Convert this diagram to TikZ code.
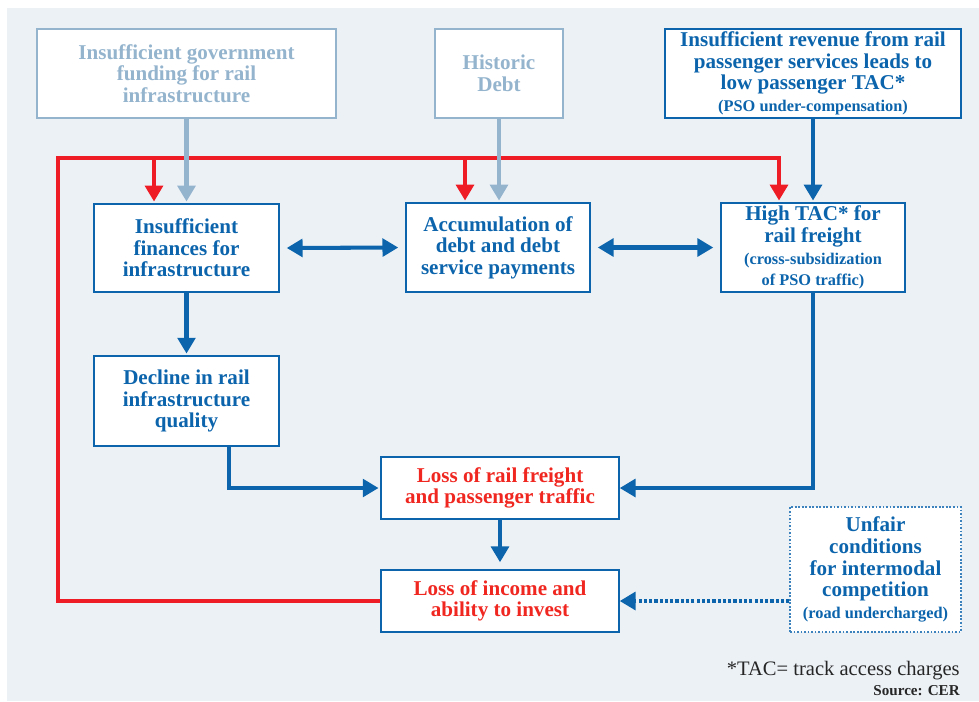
\documentclass[tikz,border=0pt]{standalone}
\usepackage{fontspec}
\setmainfont{Liberation Serif}
\usetikzlibrary{positioning, arrows.meta}

\definecolor{cerblue}{HTML}{0B64AC}
\definecolor{cerred}{HTML}{EE1D25}
\definecolor{cergrey}{HTML}{94B4CE}
\definecolor{cerback}{HTML}{ECF1F6}

\newcommand{\aside}[1]{{\fontsize{9.3}{11.4}\selectfont #1}}

\tikzset{
  box/.style={draw=cerblue, line width=0.8pt, fill=white, text=cerblue,
    font=\bfseries\fontsize{12}{12.3}\selectfont, align=center, inner sep=1pt},
  pale/.style={box, draw=cergrey, text=cergrey},
  hot/.style={box, text=cerred!90!orange},
  tip/.style={-{Triangle[width=10pt,length=9pt]}},
  link/.style={draw=cerblue, line width=2.3pt, tip, shorten >=1pt},
  both/.style={link, {Triangle[width=10pt,length=9pt]}-{Triangle[width=10pt,length=9pt]}, shorten >=4pt, shorten <=4pt},
  back/.style={link, draw=cerred},
  feed/.style={link, draw=cergrey},
  weak/.style={link, dash pattern=on 1.8pt off 1.2pt, shorten >=0pt}
}

\begin{document}
\begin{tikzpicture}[x=0.02cm, y=-0.02cm]
  \useasboundingbox (0,0) rectangle (979,701);
  \fill[cerback] (7,8) rectangle (979,701);

  % causes
  \node[pale, minimum width=5.98cm, minimum height=1.78cm] (gov) at (186.5,73.5)
    {Insufficient government\\funding for rail\\infrastructure};
  \node[pale, minimum width=2.56cm, minimum height=1.78cm] (hist) at (499,73.5)
    {Historic\\Debt};
  \node[box, minimum width=5.92cm, minimum height=1.78cm] (rev) at (813,73.5)
    {Insufficient revenue from rail\\passenger services leads to\\low passenger TAC*\\\aside{(PSO under-compensation)}};

  % middle row
  \node[box, minimum width=3.7cm, minimum height=1.76cm] (fin) at (186.5,248)
    {Insufficient\\finances for\\infrastructure};
  \node[box, minimum width=3.68cm, minimum height=1.78cm] (acc) at (498,247.5)
    {Accumulation of\\debt and debt\\service payments};
  \node[box, minimum width=3.68cm, minimum height=1.78cm] (tac) at (813,247.5)
    {High TAC* for\\rail freight\\\aside{(cross-subsidization}\\\aside{of PSO traffic)}};
  \node[box, minimum width=3.7cm, minimum height=1.8cm] (dec) at (186.5,401)
    {Decline in rail\\infrastructure\\quality};

  % effects
  \node[hot, minimum width=4.76cm, minimum height=1.24cm] (loss) at (500,488)
    {Loss of rail freight\\and passenger traffic};
  \node[hot, minimum width=4.76cm, minimum height=1.24cm] (inc) at (500,601)
    {Loss of income and\\ability to invest};
  \node[box, draw=cerblue!80, dash pattern=on 1pt off 1pt, minimum width=3.42cm, minimum height=2.5cm] (unfair) at (875.5,569.5)
    {Unfair\\conditions\\for intermodal\\competition\\\aside{(road undercharged)}};

  % footnote
  \node[anchor=base east, inner sep=0pt, text=black!85, font=\fontsize{11.7}{12}\selectfont] (note) at (960,675)
    {*TAC= track access charges};
  \node[anchor=base east, inner sep=0pt, text=black!85, font=\bfseries\fontsize{8.6}{10}\selectfont] (src) at (960,695)
    {Source: CER};

  % feedback loop
  \coordinate (corner) at (58,158);
  \coordinate (finin) at ([xshift=-0.65cm]fin.north);
  \coordinate (accin) at ([xshift=-0.66cm]acc.north);
  \coordinate (tacin) at ([xshift=-0.68cm]tac.north);
  \draw[back] (inc.west) -| (corner) -| (tacin);
  \draw[back] (finin |- corner) -- (finin);
  \draw[back] (accin |- corner) -- (accin);

  \draw[feed] (gov.south) -- (gov.south |- fin.north);
  \draw[feed] (hist.south) -- (hist.south |- acc.north);
  \draw[link] (rev.south) -- (rev.south |- tac.north);

  \draw[both] (fin.east) -- (acc.west);
  \draw[both] (acc.east) -- (tac.west);

  \draw[link] (fin.south) -- (dec.north);
  \draw[link] ([xshift=0.85cm]dec.south) |- (loss.west);
  \draw[link, shorten >=0pt] (tac.south) |- (loss.east);
  \draw[link, shorten >=4pt] (loss.south) -- (inc.north);
  \draw[weak] (unfair.west |- inc.east) -- (inc.east);
\end{tikzpicture}
\end{document}
